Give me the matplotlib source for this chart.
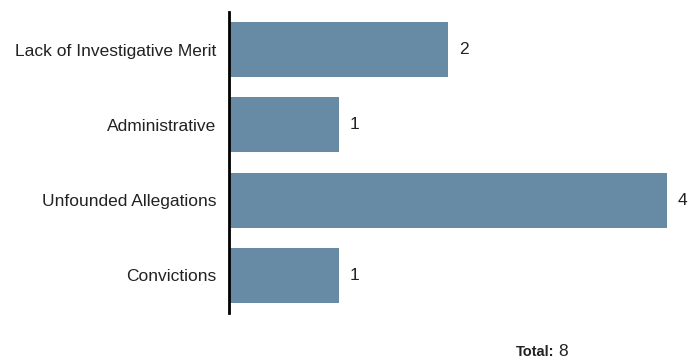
import matplotlib.pyplot as plt

plt.rcParams['font.family'] = ['Liberation Sans Narrow', 'Liberation Sans', 'DejaVu Sans']

categories = ['Convictions', 'Unfounded Allegations', 'Administrative', 'Lack of Investigative Merit']
counts = [1, 4, 1, 2]
total = sum(counts)

BAR_COLOR = '#678ba5'

fig = plt.figure(figsize=(6.92, 3.62), dpi=100)
ax = fig.add_axes([229 / 692, 49 / 362, 463 / 692, 301 / 362])

ypos = list(range(len(categories)))
ax.barh(ypos, counts, height=0.73, color=BAR_COLOR)

for y, v in zip(ypos, counts):
    ax.annotate(str(v), (v, y), xytext=(8, 0), textcoords='offset points',
                ha='left', va='center', fontsize=12.5, color='#222222')

ax.set_yticks(ypos)
ax.set_yticklabels(categories, fontsize=12.5, color='#222222')
ax.tick_params(axis='y', length=0, pad=9)
ax.set_xticks([])
ax.set_xlim(0, 463 / 109.5)
ax.set_ylim(-0.5, 3.5)

for side in ['top', 'right', 'bottom']:
    ax.spines[side].set_visible(False)
ax.spines['left'].set_linewidth(2)
ax.spines['left'].set_color('black')

ty = 1 - 352 / 362
fig.text(516 / 692, ty, 'Total:', fontsize=10.5, fontweight='bold', va='center', ha='left', color='#222222')
fig.text(558 / 692, ty, str(total), fontsize=12.5, va='center', ha='left', color='#222222')

fig.savefig('out.png', dpi=100)
